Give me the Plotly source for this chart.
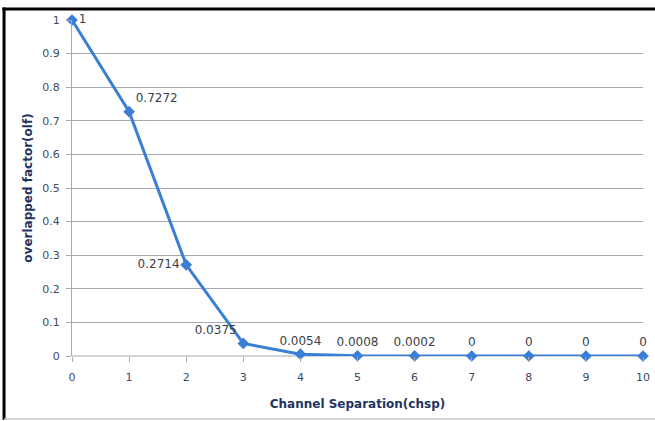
import plotly.graph_objects as go

chsp = [0, 1, 2, 3, 4, 5, 6, 7, 8, 9, 10]
olf = [1, 0.7272, 0.2714, 0.0375, 0.0054, 0.0008, 0.0002, 0, 0, 0, 0]
labels = ["1", "0.7272", "0.2714", "0.0375", "0.0054", "0.0008", "0.0002", "0", "0", "0", "0"]
positions = ["middle right", "top right", "middle left", "top left"] + ["top center"] * 7

font_fam = "DejaVu Sans, Verdana, sans-serif"
tick_col = "#3C4A66"

fig = go.Figure()
fig.add_trace(go.Scatter(
    x=chsp, y=olf, mode="lines+markers+text",
    text=labels, textposition=positions,
    textfont=dict(family=font_fam, size=12, color="#3A3F4A"),
    line=dict(color="#3A7FD5", width=3),
    marker=dict(symbol="diamond", size=9, color="#3A7FD5"),
    cliponaxis=False, showlegend=False,
))

fig.update_layout(
    width=655, height=421,
    margin=dict(l=72, r=12, t=20, b=65),
    paper_bgcolor="white", plot_bgcolor="white",
    font=dict(family=font_fam, size=11, color=tick_col),
    xaxis=dict(
        range=[0, 10], tickmode="array", tickvals=chsp,
        showgrid=False, zeroline=False, automargin="height+bottom",
        showline=False, ticks="outside", ticklen=5, tickcolor="#A6A9B4",
        ticklabelstandoff=6,
        tickfont=dict(size=11, color=tick_col),
        title=dict(text="<b>Channel Separation(chsp)</b>", font=dict(size=12, color="#1F3461"), standoff=16),
    ),
    yaxis=dict(
        range=[0, 1], dtick=0.1, tickformat="~g",
        showgrid=True, gridcolor="#A6A9B4", gridwidth=1,
        zeroline=False, showline=True, linecolor="#A6A9B4", linewidth=1,
        ticks="outside", ticklen=5, tickcolor="#A6A9B4",
        ticklabelstandoff=4,
        tickfont=dict(size=11, color=tick_col),
        title=dict(text="<b>overlapped factor(olf)</b>", font=dict(size=12, color="#1F3461"), standoff=7),
    ),
    shapes=[
        dict(type="line", xref="paper", yref="paper", x0=0, x1=1, y0=0, y1=0,
             line=dict(color="#A6A9B4", width=1), layer="below"),
        dict(type="line", xref="paper", yref="paper", x0=-0.122, x1=1.03, y0=1.0327, y1=1.0327,
             line=dict(color="black", width=3)),
        dict(type="line", xref="paper", yref="paper", x0=-0.119, x1=-0.119, y0=-0.19, y1=1.037,
             line=dict(color="black", width=3)),
        dict(type="line", xref="paper", yref="paper", x0=-0.119, x1=1.03, y0=-0.1875, y1=-0.1875,
             line=dict(color="#C8C8C8", width=1.5)),
    ],
)

fig.write_html("out.html", config={"displayModeBar": False},
               post_script="document.body.style.margin='0';")
